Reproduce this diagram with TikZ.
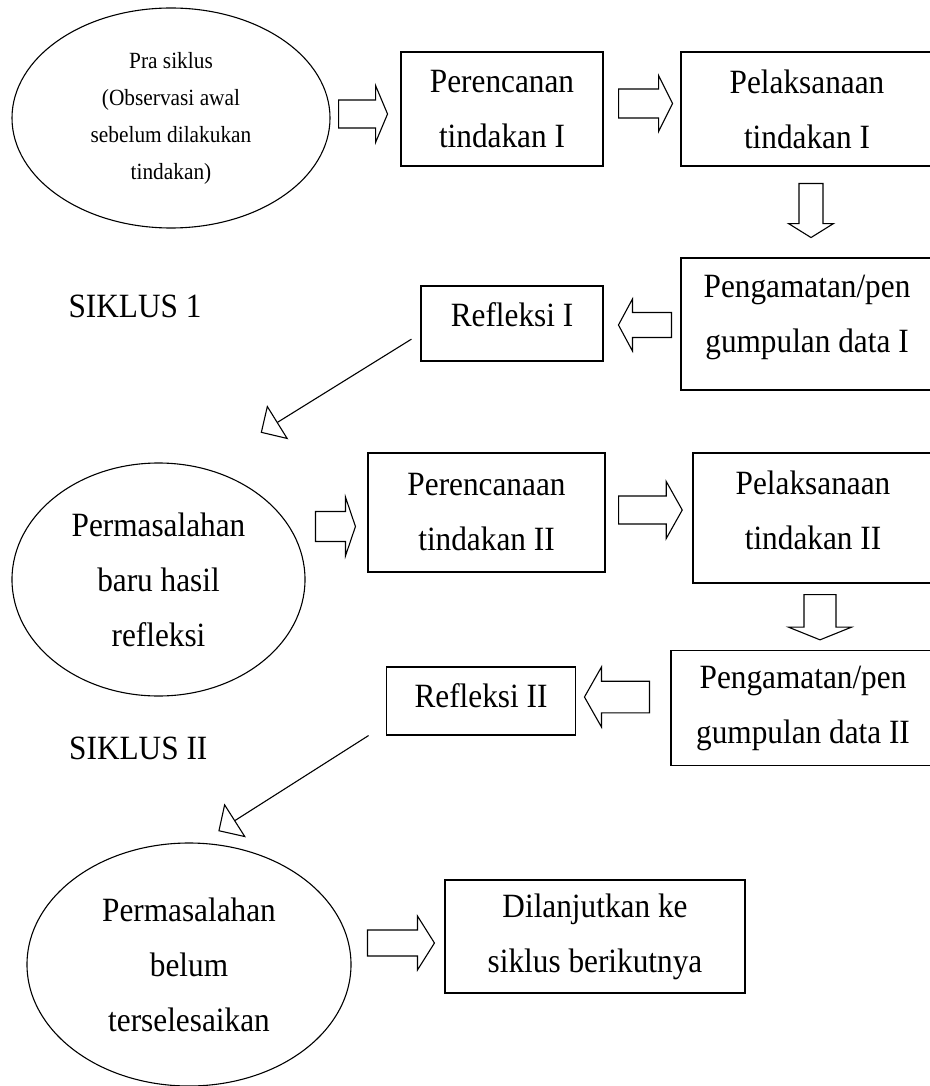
\documentclass[tikz,border=0pt]{standalone}
\usepackage{fontspec}
\setmainfont{Liberation Serif}[FakeStretch=0.92]
\usetikzlibrary{shapes.geometric,arrows.meta,calc}

\begin{document}
\begin{tikzpicture}[x=1pt, y=-1pt, line width=1.1pt,
    kotak/.style={draw, rectangle, align=center, inner sep=0pt, font=\besar},
    elips/.style={draw, ellipse, align=center, inner sep=0pt},
    garis/.style={-{Triangle[open, length=20pt, width=40pt]}},
    pics/panah/.style args={#1/#2/#3/#4}{code={
      \draw (0,-#2) -- ({#1-#4},-#2) -- ({#1-#4},-#3) -- (#1,0)
        -- ({#1-#4},#3) -- ({#1-#4},#2) -- (0,#2) -- cycle;}}]
        \def \besar {\fontsize{34}{55}\selectfont}
        \def \kecil {\fontsize{23.2}{37}\selectfont}

        \useasboundingbox (0,0) rectangle (929,1086);

        % siklus I
        \node[elips, font=\kecil, minimum width=318pt, minimum height=220pt] at (171,118) (pra)
          {Pra siklus\\(Observasi awal\\sebelum dilakukan\\tindakan)};
        \node[kotak, minimum width=202pt, minimum height=114pt] at (502,109) (ren1) {Perencanan\\tindakan I};
        \node[kotak, minimum width=252pt, minimum height=114pt] at (807,109) (lak1) {Pelaksanaan\\tindakan I};
        \node[kotak, minimum width=252pt, minimum height=132pt, text depth=21pt] at (807,324) (amat1)
          {Pengamatan/pen\\gumpulan data I};
        \node[kotak, minimum width=182pt, minimum height=75pt, text depth=18.6pt] at (512,323.5) (ref1) {Refleksi I};
        \node[font=\besar] at (135,306) (sik1) {SIKLUS 1};

        \pic at ($(pra.east)+(8,-4)$) {panah=49/14/28.5/12};
        \pic at ($(ren1.east)+(15,-5.5)$) {panah=54/14.5/28/14};
        \pic[rotate=-90] at ($(lak1.south)+(4,17)$) {panah=54/12/22.5/14};
        \pic[rotate=180] at ($(amat1.west)+(-9,1)$) {panah=53/12.5/26/14};

        % siklus II
        \node[elips, font=\besar, minimum width=293pt, minimum height=233pt] at (158.5,579.5) (baru)
          {Permasalahan\\baru hasil\\refleksi};
        \node[kotak, minimum width=237pt, minimum height=119pt] at (486.5,512.5) (ren2) {Perencanaan\\tindakan II};
        \node[kotak, minimum width=240pt, minimum height=130pt, text depth=16pt] at (813,518) (lak2)
          {Pelaksanaan\\tindakan II};
        \node[kotak, minimum width=264pt, minimum height=115pt] at (803,708) (amat2) {Pengamatan/pen\\gumpulan data II};
        \node[kotak, minimum width=189pt, minimum height=68pt, text depth=10.3pt] at (481,701) (ref2) {Refleksi II};
        \node[font=\besar] at (138.3,748) (sik2) {SIKLUS II};

        \coordinate (g1a) at ($(ref1.south west)+(-9,-22.4)$);
        \coordinate (g1b) at ($(baru.north)+(102.2,-29.7)$);
        \draw[garis] (g1a) -- (g1b);

        \pic at ($(ren2.west)+(-52,14)$) {panah=40/15/29.5/10};
        \pic at ($(ren2.east)+(13,-2.5)$) {panah=63.7/14/28.5/16};
        \pic[rotate=-90] at ($(lak2.south)+(7,11)$) {panah=45.3/16/31.5/12.7};
        \pic[rotate=180] at ($(amat2.west)+(-21,-11)$) {panah=65/15.8/30/17};

        % lanjutan
        \node[elips, font=\besar, minimum width=324pt, minimum height=243pt] at (189,964.5) (belum)
          {Permasalahan\\belum\\terselesaikan};
        \node[kotak, minimum width=300pt, minimum height=113pt] at (595,936.5) (lanjut)
          {Dilanjutkan ke\\siklus berikutnya};

        \coordinate (g2a) at ($(ref2.south west)+(-17.4,0)$);
        \coordinate (g2b) at ($(belum.north)+(29.3,-11.3)$);
        \draw[garis] (g2a) -- (g2b);

        \pic at ($(lanjut.west)+(-77,6.5)$) {panah=67/13/27/17};
\end{tikzpicture}
\end{document}
